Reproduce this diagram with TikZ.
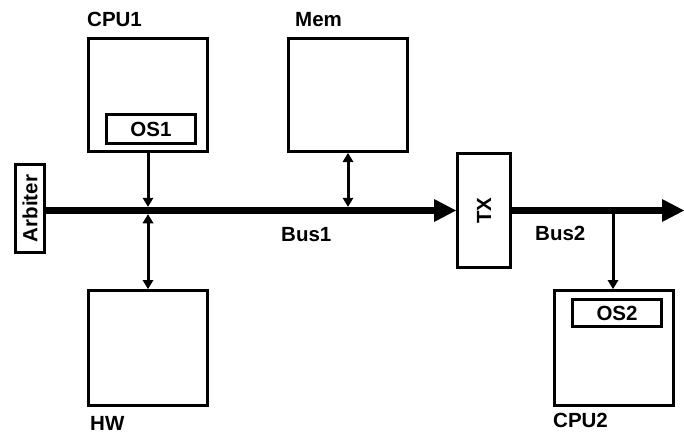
\documentclass[tikz,border=0pt]{standalone}
\usepackage{fontspec}
\setmainfont{Liberation Sans}
\usetikzlibrary{arrows.meta}
\begin{document}
\begin{tikzpicture}[x=1pt,y=-1pt,
  box/.style={draw,line width=3pt,inner sep=0pt},
  txt/.style={font=\bfseries\fontsize{20.5}{24}\selectfont,inner sep=0pt},
  bus/.style={line width=7.5pt,-{Triangle[length=22pt,width=23pt,line width=0pt]}},
  link/.style={line width=3pt,-{Triangle[length=9pt,width=11pt,line width=0pt]}},
  dlink/.style={line width=3pt,{Triangle[length=9pt,width=11pt,line width=0pt]}-{Triangle[length=9pt,width=11pt,line width=0pt]}}]
\useasboundingbox (0,0) rectangle (684,433);
% boxes
\node[box,minimum width=119pt,minimum height=113pt] (cpu1) at (148,95) {};
\node[box,minimum width=119pt,minimum height=113pt] (mem) at (348,95) {};
\node[box,minimum width=119pt,minimum height=115pt] (hw) at (148,348) {};
\node[box,minimum width=119pt,minimum height=115pt] (cpu2) at (614,348) {};
\node[box,txt,minimum width=89pt,minimum height=29pt] (os1) at (151,129) {OS1};
\node[box,txt,minimum width=89pt,minimum height=27pt] (os2) at (617,313) {OS2};
\node[box,txt,rotate=90,minimum width=88pt,minimum height=29pt] (arbiter) at (30,208.5) {Arbiter};
\node[box,txt,rotate=90,minimum width=114pt,minimum height=53pt] (tx) at (484,210.5) {TX};
% labels
\node[txt,anchor=base west] (lcpu1) at (87,27) {CPU1};
\node[txt,anchor=base west] (lmem) at (295,27) {Mem};
\node[txt,anchor=base west] (lhw) at (90,430) {HW};
\node[txt,anchor=base west] (lcpu2) at (553,427) {CPU2};
\node[txt,anchor=base west] (lbus1) at (281,241) {Bus1};
\node[txt,anchor=base west] (lbus2) at (535,240) {Bus2};
% buses
\coordinate (bus2end) at (684,210.5);
\draw[bus] (arbiter.south |- tx.north) -- (tx.north);
\draw[bus] (tx.south) -- (bus2end);
% links
\coordinate (j1t) at (148,206.75);
\coordinate (j1b) at (148,214.25);
\coordinate (j2t) at (348,206.75);
\coordinate (j3) at (613,210.5);
\draw[link] (cpu1.south) -- (j1t);
\draw[dlink] (j1b) -- (hw.north);
\draw[dlink] (mem.south) -- (j2t);
\draw[link] (j3) -- (j3 |- cpu2.north);
\end{tikzpicture}
\end{document}
